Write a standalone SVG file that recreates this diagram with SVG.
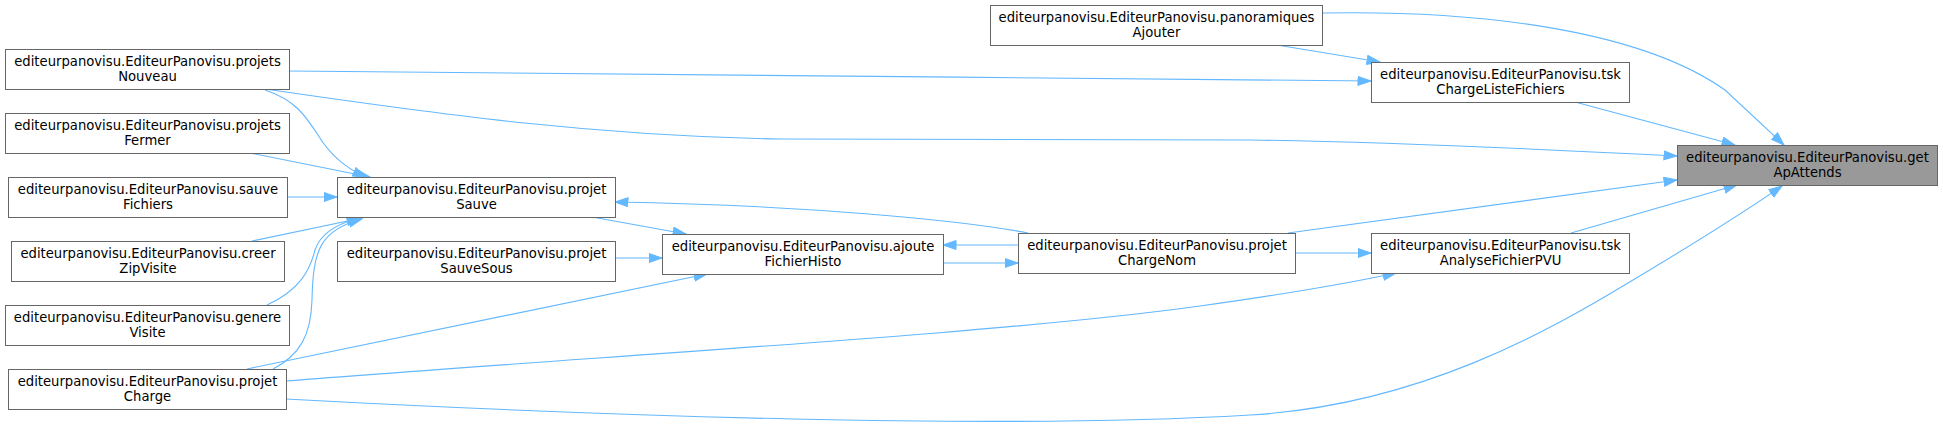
<svg xmlns="http://www.w3.org/2000/svg" width="1943" height="425" viewBox="0 0 1943 425">
<style>
.n rect{fill:#ffffff;stroke:#666666;stroke-width:1}
.n.hl rect{fill:#999999}
.n text{font-family:"DejaVu Sans","Liberation Sans",sans-serif;font-size:13.2px;fill:#000000;text-anchor:middle}
.e path{fill:none;stroke:#63b8ff;stroke-width:1.1;marker-end:url(#arr)}
</style>
<defs>
<marker id="arr" markerUnits="userSpaceOnUse" markerWidth="15" markerHeight="11" refX="13.5" refY="5" orient="auto" viewBox="0 0 15 11">
<path d="M0.5,0.5 L13.5,5 L0.5,9.5 z" fill="#63b8ff" stroke="#63b8ff" stroke-width="1"/>
</marker>
</defs>
<rect width="1943" height="425" fill="#ffffff"/>
<g id="connectors" class="e">
<!-- into getApAttends -->
<path d="M1322,13 C1480,10 1640,30 1725,90 L1784,145"/>
<path d="M1575,102 L1735,145"/>
<path d="M265,89 C450,116 600,136 780,139 L1250,140 C1400,142 1560,150 1677,156"/>
<path d="M1288,233 L1677,180"/>
<path d="M1571,233 L1737,185"/>
<path d="M286,399 C600,416 1000,430 1250,415 C1420,405 1550,330 1628,283 C1690,246 1740,215 1782,186"/>
<!-- into tskChargeListeFichiers -->
<path d="M289,71 C700,74 1000,78 1371,81"/>
<path d="M1277,45 L1380,62"/>
<!-- into tskAnalyseFichierPVU -->
<path d="M1295,253 L1371,253"/>
<path d="M286,381 C600,356 1000,334 1200,306 C1300,292 1350,283 1396,273"/>
<!-- into ajouteFichierHisto -->
<path d="M247,369 L707,274"/>
<path d="M592,217 L686,234"/>
<path d="M615,258 L662,258"/>
<path d="M1018,245 L943,245"/>
<!-- into projetChargeNom -->
<path d="M943,263 L1018,263"/>
<!-- into projetSauve -->
<path d="M1028,233 C960,220 800,205 615,202"/>
<path d="M265,90 C295,100 305,115 318,135 C330,155 345,168 366,177"/>
<path d="M250,153 L370,177"/>
<path d="M287,197 L337,197"/>
<path d="M252,241 L362,218"/>
<path d="M267,305 C300,290 310,270 315,250 C320,235 335,224 360,218"/>
<path d="M273,369 C300,355 311,335 312,300 C313,250 320,230 362,219"/>
</g>
<g id="getApAttends" class="n hl"><rect x="1677.5" y="145.5" width="260" height="40"/><text x="1807.5" y="161.5">editeurpanovisu.EditeurPanovisu.get</text><text x="1807.5" y="176.5">ApAttends</text></g>
<g id="panoramiquesAjouter" class="n"><rect x="990.5" y="5.5" width="332" height="40"/><text x="1156.5" y="21.5">editeurpanovisu.EditeurPanovisu.panoramiques</text><text x="1156.5" y="36.5">Ajouter</text></g>
<g id="tskChargeListeFichiers" class="n"><rect x="1371.5" y="62.5" width="258" height="40"/><text x="1500.5" y="78.5">editeurpanovisu.EditeurPanovisu.tsk</text><text x="1500.5" y="93.5">ChargeListeFichiers</text></g>
<g id="projetsNouveau" class="n"><rect x="5.5" y="49.5" width="284" height="40"/><text x="147.5" y="65.5">editeurpanovisu.EditeurPanovisu.projets</text><text x="147.5" y="80.5">Nouveau</text></g>
<g id="projetChargeNom" class="n"><rect x="1018.5" y="233.5" width="277" height="40"/><text x="1157" y="249.5">editeurpanovisu.EditeurPanovisu.projet</text><text x="1157" y="264.5">ChargeNom</text></g>
<g id="tskAnalyseFichierPVU" class="n"><rect x="1371.5" y="233.5" width="258" height="40"/><text x="1500.5" y="249.5">editeurpanovisu.EditeurPanovisu.tsk</text><text x="1500.5" y="264.5">AnalyseFichierPVU</text></g>
<g id="projetCharge" class="n"><rect x="8.5" y="369.5" width="278" height="40"/><text x="147.5" y="385.5">editeurpanovisu.EditeurPanovisu.projet</text><text x="147.5" y="400.5">Charge</text></g>
<g id="ajouteFichierHisto" class="n"><rect x="662.5" y="234.5" width="281" height="40"/><text x="803" y="250.5">editeurpanovisu.EditeurPanovisu.ajoute</text><text x="803" y="265.5">FichierHisto</text></g>
<g id="projetSauve" class="n"><rect x="337.5" y="177.5" width="278" height="40"/><text x="476.5" y="193.5">editeurpanovisu.EditeurPanovisu.projet</text><text x="476.5" y="208.5">Sauve</text></g>
<g id="projetSauveSous" class="n"><rect x="337.5" y="241.5" width="278" height="40"/><text x="476.5" y="257.5">editeurpanovisu.EditeurPanovisu.projet</text><text x="476.5" y="272.5">SauveSous</text></g>
<g id="projetsFermer" class="n"><rect x="5.5" y="113.5" width="284" height="40"/><text x="147.5" y="129.5">editeurpanovisu.EditeurPanovisu.projets</text><text x="147.5" y="144.5">Fermer</text></g>
<g id="sauveFichiers" class="n"><rect x="8.5" y="177.5" width="279" height="40"/><text x="148" y="193.5">editeurpanovisu.EditeurPanovisu.sauve</text><text x="148" y="208.5">Fichiers</text></g>
<g id="creerZipVisite" class="n"><rect x="11.5" y="241.5" width="273" height="40"/><text x="148" y="257.5">editeurpanovisu.EditeurPanovisu.creer</text><text x="148" y="272.5">ZipVisite</text></g>
<g id="genereVisite" class="n"><rect x="5.5" y="305.5" width="284" height="40"/><text x="147.5" y="321.5">editeurpanovisu.EditeurPanovisu.genere</text><text x="147.5" y="336.5">Visite</text></g>
</svg>
